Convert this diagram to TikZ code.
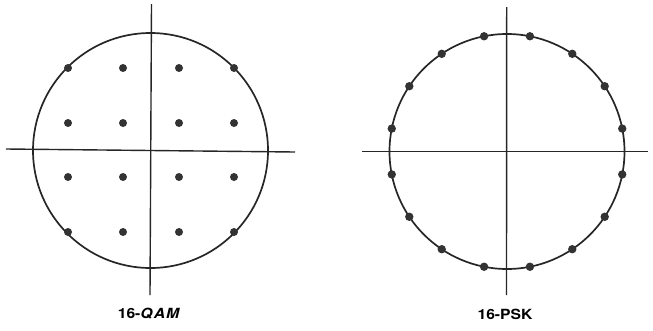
\documentclass[tikz,border=0pt]{standalone}
\usepackage{fontspec}
\setsansfont{TeX Gyre Heros}
\usetikzlibrary{calc}
\begin{document}
\begin{tikzpicture}[x=1pt,y=-1pt,
  axis/.style={line width=1.4pt,draw=black!85},
  ring/.style={line width=1.7pt,draw=black!85},
  dotpt/.style={circle,fill=black!80,inner sep=0pt,minimum size=8pt},
  lbl/.style={font=\sffamily\bfseries\fontsize{14}{16}\selectfont,xscale=1.12,inner sep=0pt}]
\useasboundingbox (0,0) rectangle (653,330);
% ---- 16-QAM ----
\coordinate (qc) at (150.5,150.5);
\coordinate (qt) at (151.5,4);
\coordinate (qb) at (150,295);
\coordinate (ql) at (6,149);
\coordinate (qr) at (295,152);
\draw[ring] (qc) circle[radius=117.5];
\draw[axis] (qt) -- (qb);
\draw[axis] (ql) -- (qr);
\foreach \i/\x in {1/68,2/123,3/179,4/234}{
  \foreach \j/\y in {1/68,2/123,3/177,4/232}{
    \node[dotpt] (q\i\j) at (\x,\y) {};
  }
}
\node[lbl] (qam) at (149,314) {16-\textit{Q\kern1ptA\kern1ptM}};
% ---- 16-PSK ----
\coordinate (pc) at (507,151.5);
\coordinate (ptop) at (506.7,7);
\coordinate (pbot) at (506.5,295);
\coordinate (pleft) at (362,151.7);
\coordinate (pright) at (648,151.7);
\draw[ring] (pc) circle[radius=117.5];
\draw[axis] (ptop) -- (pbot);
\draw[axis] (pleft) -- (pright);
\foreach \k in {0,...,15}{
  \node[dotpt,minimum size=8.4pt] (p\k) at ($(pc)+({11.25+22.5*\k}:117.5)$) {};
}
\node[lbl] (psk) at (505,314) {16-PSK};
\end{tikzpicture}
\end{document}
